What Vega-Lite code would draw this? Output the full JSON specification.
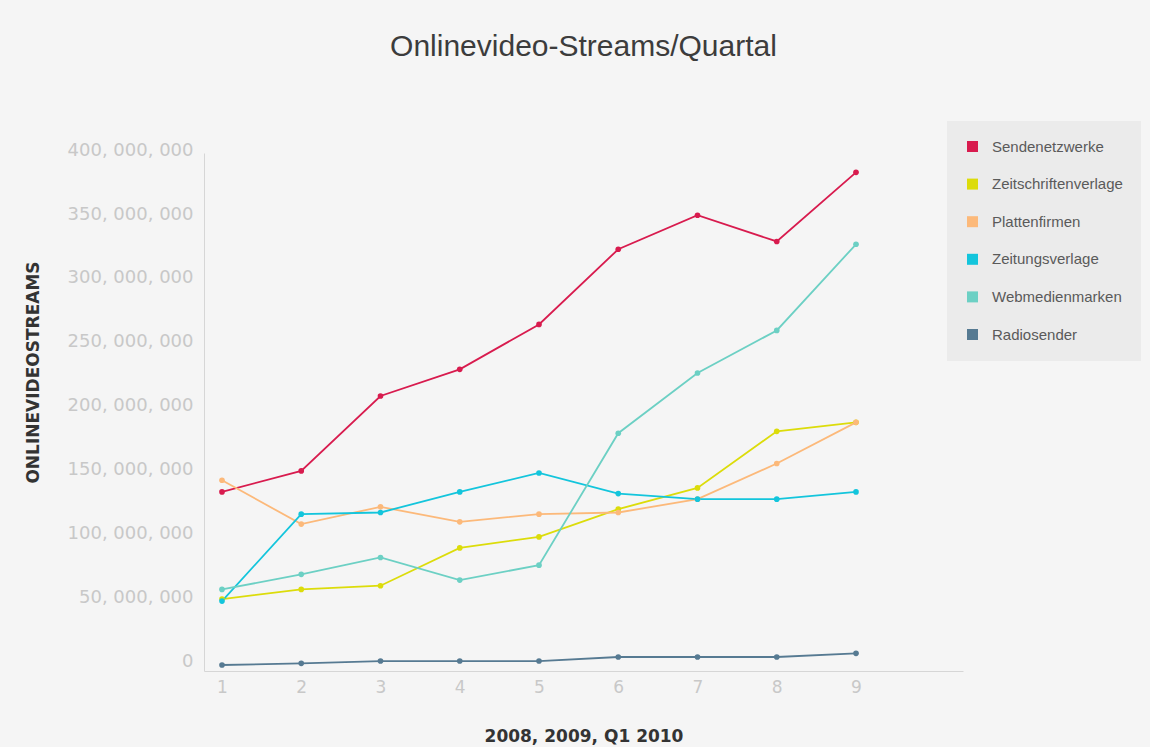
{
  "$schema": "https://vega.github.io/schema/vega-lite/v6.json",
  "autosize": {"type": "none"},
  "width": 759,
  "height": 518,
  "padding": {"left": 204, "top": 153, "right": 187, "bottom": 76},
  "background": "#f5f5f5",
  "title": {
    "text": "Onlinevideo-Streams/Quartal",
    "font": "Liberation Sans",
    "fontSize": 30,
    "fontWeight": "normal",
    "color": "#3c3c3c",
    "anchor": "middle",
    "frame": "group",
    "baseline": "alphabetic",
    "offset": 35
  },
  "config": {
    "view": {"stroke": null, "fill": null},
    "axis": {"grid": false, "ticks": false, "domainColor": "#d6d6d6", "domainWidth": 1}
  },
  "data": {
    "values": [
      {"q": 1, "series": "Sendenetzwerke", "value": 135400000},
      {"q": 2, "series": "Sendenetzwerke", "value": 151800000},
      {"q": 3, "series": "Sendenetzwerke", "value": 210400000},
      {"q": 4, "series": "Sendenetzwerke", "value": 231300000},
      {"q": 5, "series": "Sendenetzwerke", "value": 266400000},
      {"q": 6, "series": "Sendenetzwerke", "value": 325200000},
      {"q": 7, "series": "Sendenetzwerke", "value": 351800000},
      {"q": 8, "series": "Sendenetzwerke", "value": 331300000},
      {"q": 9, "series": "Sendenetzwerke", "value": 385400000},
      {"q": 1, "series": "Zeitschriftenverlage", "value": 51600000},
      {"q": 2, "series": "Zeitschriftenverlage", "value": 59100000},
      {"q": 3, "series": "Zeitschriftenverlage", "value": 62000000},
      {"q": 4, "series": "Zeitschriftenverlage", "value": 91600000},
      {"q": 5, "series": "Zeitschriftenverlage", "value": 100200000},
      {"q": 6, "series": "Zeitschriftenverlage", "value": 121900000},
      {"q": 7, "series": "Zeitschriftenverlage", "value": 138500000},
      {"q": 8, "series": "Zeitschriftenverlage", "value": 182800000},
      {"q": 9, "series": "Zeitschriftenverlage", "value": 189800000},
      {"q": 1, "series": "Plattenfirmen", "value": 144500000},
      {"q": 2, "series": "Plattenfirmen", "value": 110200000},
      {"q": 3, "series": "Plattenfirmen", "value": 123700000},
      {"q": 4, "series": "Plattenfirmen", "value": 112000000},
      {"q": 5, "series": "Plattenfirmen", "value": 118000000},
      {"q": 6, "series": "Plattenfirmen", "value": 119300000},
      {"q": 7, "series": "Plattenfirmen", "value": 129700000},
      {"q": 8, "series": "Plattenfirmen", "value": 157600000},
      {"q": 9, "series": "Plattenfirmen", "value": 189800000},
      {"q": 1, "series": "Zeitungsverlage", "value": 50000000},
      {"q": 2, "series": "Zeitungsverlage", "value": 118000000},
      {"q": 3, "series": "Zeitungsverlage", "value": 119300000},
      {"q": 4, "series": "Zeitungsverlage", "value": 135400000},
      {"q": 5, "series": "Zeitungsverlage", "value": 150200000},
      {"q": 6, "series": "Zeitungsverlage", "value": 134100000},
      {"q": 7, "series": "Zeitungsverlage", "value": 129700000},
      {"q": 8, "series": "Zeitungsverlage", "value": 129700000},
      {"q": 9, "series": "Zeitungsverlage", "value": 135400000},
      {"q": 1, "series": "Webmedienmarken", "value": 59100000},
      {"q": 2, "series": "Webmedienmarken", "value": 70900000},
      {"q": 3, "series": "Webmedienmarken", "value": 84100000},
      {"q": 4, "series": "Webmedienmarken", "value": 66400000},
      {"q": 5, "series": "Webmedienmarken", "value": 78100000},
      {"q": 6, "series": "Webmedienmarken", "value": 181300000},
      {"q": 7, "series": "Webmedienmarken", "value": 228400000},
      {"q": 8, "series": "Webmedienmarken", "value": 261700000},
      {"q": 9, "series": "Webmedienmarken", "value": 329100000},
      {"q": 1, "series": "Radiosender", "value": 0},
      {"q": 2, "series": "Radiosender", "value": 1300000},
      {"q": 3, "series": "Radiosender", "value": 3100000},
      {"q": 4, "series": "Radiosender", "value": 3100000},
      {"q": 5, "series": "Radiosender", "value": 3100000},
      {"q": 6, "series": "Radiosender", "value": 6250000},
      {"q": 7, "series": "Radiosender", "value": 6250000},
      {"q": 8, "series": "Radiosender", "value": 6250000},
      {"q": 9, "series": "Radiosender", "value": 9100000}
    ]
  },
  "mark": {"type": "line", "strokeWidth": 1.8, "point": {"filled": true, "size": 32}},
  "encoding": {
    "x": {
      "field": "q",
      "type": "quantitative",
      "scale": {"domain": [0.773, 10.35], "nice": false, "zero": false},
      "axis": {
        "values": [1, 2, 3, 4, 5, 6, 7, 8, 9],
        "format": "d",
        "labelFont": "DejaVu Sans",
        "labelFontSize": 17,
        "labelColor": "#c8c8c8",
        "labelPadding": 8,
        "title": "2008, 2009, Q1 2010",
        "titleFont": "DejaVu Sans",
        "titleFontSize": 17,
        "titleFontWeight": "bold",
        "titleColor": "#333333",
        "titlePadding": 33
      }
    },
    "y": {
      "field": "value",
      "type": "quantitative",
      "scale": {"domain": [-4700000, 400500000], "nice": false, "zero": false},
      "axis": {
        "values": [0, 50000000, 100000000, 150000000, 200000000, 250000000, 300000000, 350000000, 400000000],
        "labelExpr": "join(split(format(datum.value, ','), ','), ', ')",
        "labelFont": "DejaVu Sans",
        "labelFontSize": 18,
        "labelColor": "#c8c8c8",
        "labelPadding": 11,
        "labelOffset": -3.5,
        "title": "ONLINEVIDEOSTREAMS",
        "titleFont": "DejaVu Sans",
        "titleFontSize": 17,
        "titleFontWeight": "bold",
        "titleColor": "#333333",
        "titleAngle": -90,
        "titleX": -171,
        "titleY": 219,
        "titleAlign": "center",
        "titleBaseline": "middle"
      }
    },
    "color": {
      "field": "series",
      "type": "nominal",
      "sort": ["Sendenetzwerke", "Zeitschriftenverlage", "Plattenfirmen", "Zeitungsverlage", "Webmedienmarken", "Radiosender"],
      "scale": {
        "domain": ["Sendenetzwerke", "Zeitschriftenverlage", "Plattenfirmen", "Zeitungsverlage", "Webmedienmarken", "Radiosender"],
        "range": ["#d81b4e", "#dcdc0a", "#fcb97a", "#13c5dc", "#6cd0c4", "#567a92"]
      },
      "legend": {
        "title": null,
        "orient": "none",
        "legendX": 743,
        "legendY": -32,
        "fillColor": "#ebebeb",
        "padding": 18,
        "symbolType": "square",
        "symbolSize": 121,
        "symbolStrokeWidth": 0,
        "labelFont": "Liberation Sans",
        "labelFontSize": 15,
        "labelColor": "#5a5a5a",
        "labelOffset": 12,
        "rowPadding": 21.6,
        "labelLimit": 300
      }
    }
  }
}
